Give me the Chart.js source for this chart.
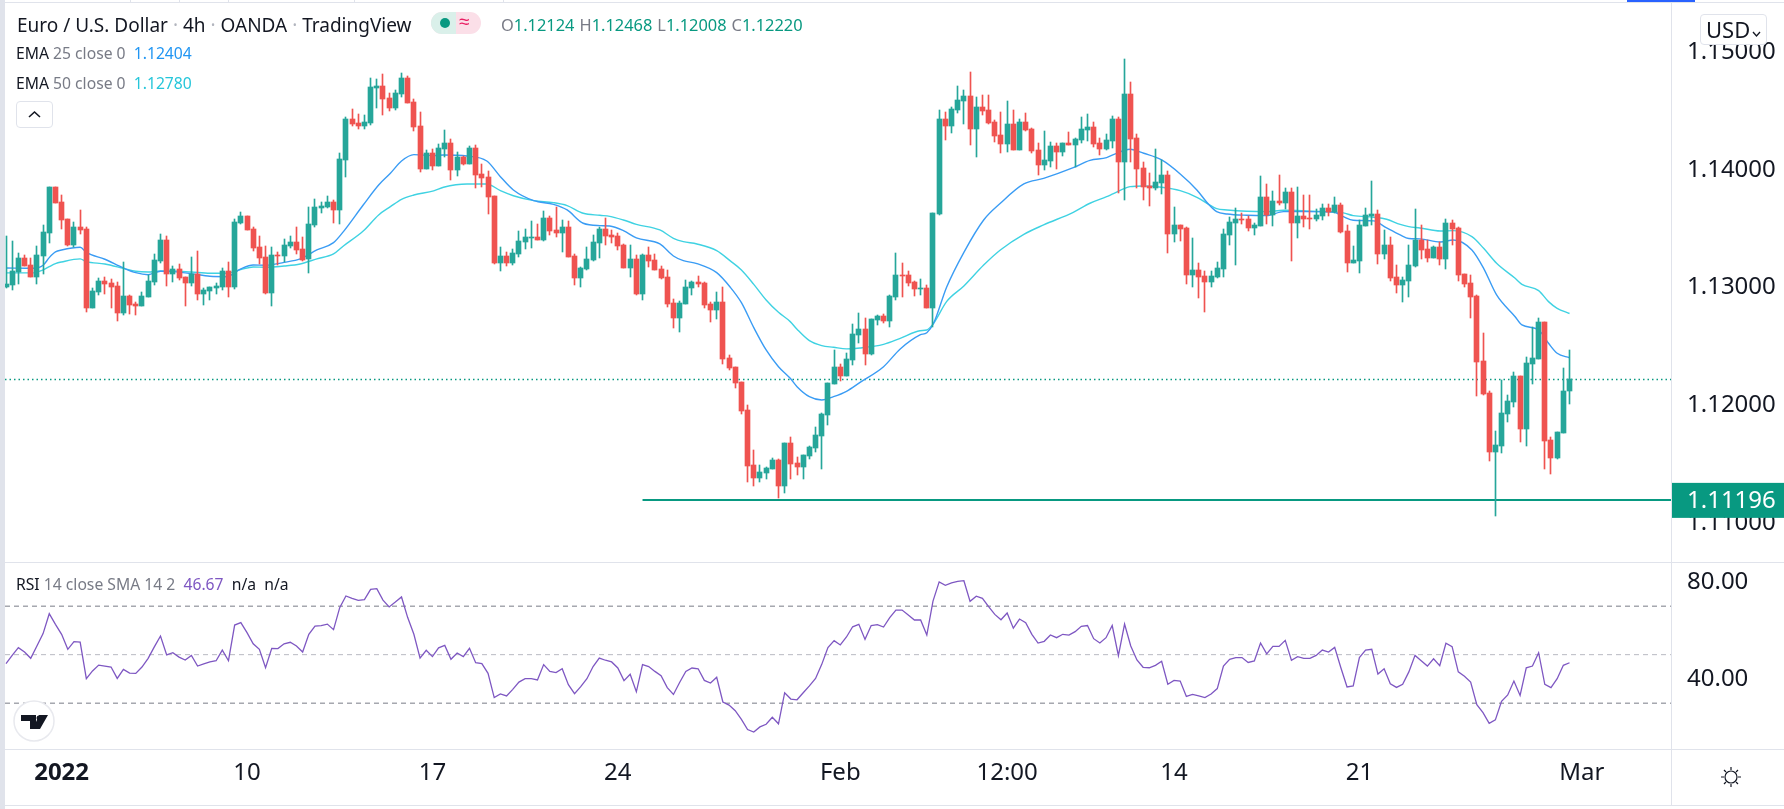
<!DOCTYPE html>
<html>
<head>
<meta charset="utf-8">
<title>Euro / U.S. Dollar</title>
<script src="https://cdn.jsdelivr.net/npm/chart.js@4/dist/chart.umd.min.js"></script>
<style>
html, body { margin: 0; padding: 0; background: #fff; width: 1784px; height: 809px; overflow: hidden; font-family: "Noto Sans", sans-serif; color: #131722; }
canvas { position: absolute; }
.line { position: absolute; background: #e0e3eb; }
.txt { position: absolute; white-space: nowrap; line-height: 20px; }
.grey { color: #787b86; }
#title { left: 17px; top: 15px; font-size: 19px; }
#title span { color: #b2b5be; }
#ohlc { left: 501px; top: 15px; font-size: 16.4px; color: #787b86; }
#ohlc b { font-weight: normal; color: #089981; margin-right: 5px; }
#ema25, #ema50, #rsiLegend { left: 16px; font-size: 15.7px; }
#ema25 { top: 43px; }
#ema50 { top: 73px; }
#rsiLegend { top: 574px; }
#pill { position: absolute; left: 431px; top: 12px; width: 50px; height: 22px; border-radius: 11px; overflow: hidden; background: #fbdfe8; }
#pill i { position: absolute; left: 0; top: 0; width: 25px; height: 22px; background: #daf0ea; }
#pill u { position: absolute; left: 9px; top: 6px; width: 10px; height: 10px; border-radius: 5px; background: #089981; }
#pill s { position: absolute; left: 28px; top: -3px; font-size: 19px; line-height: 24px; color: #e91e63; text-decoration: none; }
#collapse { position: absolute; left: 16px; top: 101px; width: 35px; height: 25px; border: 1px solid #e0e3eb; border-radius: 4px; background: #fff; }
#usd { position: absolute; left: 1700px; top: 14px; width: 65px; height: 29px; border: 1px solid #e0e3eb; border-radius: 4px; background: #fff; font-size: 22px; line-height: 29px; text-indent: 5px; }
#logo { position: absolute; left: 13px; top: 700px; }
#sun { position: absolute; left: 1720px; top: 766px; }
</style>
</head>
<body>
<canvas id="priceChart" style="left:5px;top:3px"></canvas>
<canvas id="rsiChart" style="left:5px;top:563px"></canvas>

<div class="line" style="left:0;top:0;width:5px;height:809px"></div>
<div class="line" style="left:5px;top:2px;width:1779px;height:1px"></div>
<div class="line" style="left:5px;top:562px;width:1779px;height:1px"></div>
<div class="line" style="left:5px;top:749px;width:1779px;height:1px"></div>
<div class="line" style="left:5px;top:805px;width:1779px;height:1px"></div>
<div class="line" style="left:1671px;top:3px;width:1px;height:802px"></div>
<div class="line" style="left:130px;top:0;width:1px;height:2px"></div>
<div class="line" style="left:179px;top:0;width:1px;height:2px"></div>
<div class="line" style="left:228px;top:0;width:1px;height:2px"></div>
<div class="line" style="left:354px;top:0;width:1px;height:2px"></div>
<div class="line" style="left:503px;top:0;width:1px;height:2px"></div>
<div class="line" style="left:1627px;top:0;width:68px;height:2px;background:#2962ff"></div>

<div class="txt" id="title">Euro / U.S. Dollar <span>·</span> 4h <span>·</span> OANDA <span>·</span> TradingView</div>
<div id="pill"><i></i><u></u><s>≈</s></div>
<div class="txt" id="ohlc">O<b>1.12124</b>H<b>1.12468</b>L<b>1.12008</b>C<b>1.12220</b></div>
<div class="txt" id="ema25">EMA <span class="grey">25 close 0</span>&nbsp; <span style="color:#2196f3">1.12404</span></div>
<div class="txt" id="ema50">EMA <span class="grey">50 close 0</span>&nbsp; <span style="color:#26c6da">1.12780</span></div>
<div id="collapse"><svg width="35" height="25"><path d="M12 15l5.5-5 5.5 5" fill="none" stroke="#131722" stroke-width="1.6"/></svg></div>
<div id="usd">USD<svg width="10" height="8" style="margin-left:2px"><path d="M1 2l3.5 4 3.5-4" fill="none" stroke="#131722" stroke-width="1.3"/></svg></div>
<div class="txt" id="rsiLegend">RSI <span class="grey">14 close SMA 14 2</span>&nbsp; <span style="color:#7e57c2">46.67</span>&nbsp; n/a&nbsp; n/a</div>
<svg id="logo" width="42" height="42"><circle cx="21" cy="21" r="20" fill="#fff" stroke="#e8e9ee" stroke-width="1.5"/><path d="M8 15h15v14h-6v-8h-9z M26 15h9l-8 14h-7z" fill="#131722"/><circle cx="26" cy="18" r="2.5" fill="#131722"/></svg>
<svg id="sun" width="22" height="22"><g fill="none" stroke="#131722" stroke-width="1.2"><circle cx="11" cy="11" r="6"/><path d="M11 1v3M11 18v3M1 11h3M18 11h3M4 4l2 2M16 16l2 2M4 18l2-2M16 6l2-2"/></g></svg>

<script>
// ========================
// Data
// ========================
const opens = [1.13006,1.13023,1.13133,1.13252,1.13193,1.13091,1.13269,1.13465,1.13855,1.13728,
1.13584,1.13363,1.13516,1.13499,1.12827,1.12963,1.13057,1.13040,1.13014,1.12785,
1.12929,1.12861,1.12844,1.12921,1.13048,1.13227,1.13405,1.13116,1.13159,1.13091,
1.13040,1.13116,1.12946,1.12972,1.12997,1.13006,1.13142,1.13006,1.13550,1.13609,
1.13499,1.13346,1.13261,1.12955,1.13278,1.13269,1.13354,1.13388,1.13329,1.13244,
1.13533,1.13677,1.13686,1.13728,1.13660,1.14085,1.14434,1.14400,1.14374,1.14400,
1.14697,1.14714,1.14612,1.14527,1.14646,1.14782,1.14578,1.14374,1.14009,1.14145,
1.14034,1.14179,1.14230,1.14000,1.14111,1.14051,1.14187,1.13966,1.13941,1.13779,
1.13210,1.13269,1.13210,1.13286,1.13388,1.13422,1.13431,1.13405,1.13592,1.13490,
1.13465,1.13516,1.13269,1.13082,1.13159,1.13235,1.13380,1.13499,1.13448,1.13439,
1.13363,1.13167,1.13244,1.12946,1.13278,1.13235,1.13159,1.13091,1.12870,1.12742,
1.12861,1.12997,1.13048,1.13040,1.12861,1.12810,1.12878,1.12402,1.12326,1.12198,
1.11960,1.11493,1.11382,1.11425,1.11459,1.11535,1.11314,1.11680,1.11510,1.11476,
1.11569,1.11637,1.11739,1.11918,1.12181,1.12326,1.12249,1.12385,1.12598,1.12648,
1.12436,1.12725,1.12759,1.12717,1.12921,1.13108,1.13108,1.13048,1.12989,1.12997,
1.12827,1.13626,1.14434,1.14374,1.14510,1.14587,1.14629,1.14349,1.14536,1.14510,
1.14408,1.14298,1.14221,1.14391,1.14170,1.14408,1.14349,1.14170,1.14043,1.14077,
1.14204,1.14153,1.14230,1.14213,1.14255,1.14340,1.14366,1.14230,1.14179,1.14247,
1.14434,1.14068,1.14646,1.14272,1.14017,1.13864,1.13847,1.13890,1.13958,1.13456,
1.13533,1.13507,1.13108,1.13150,1.13099,1.13048,1.13091,1.13159,1.13448,1.13550,
1.13584,1.13584,1.13507,1.13524,1.13771,1.13618,1.13737,1.13720,1.13813,1.13550,
1.13609,1.13592,1.13584,1.13609,1.13677,1.13643,1.13703,1.13482,1.13210,1.13227,
1.13524,1.13609,1.13626,1.13286,1.13363,1.13091,1.13023,1.13057,1.13184,1.13405,
1.13329,1.13252,1.13346,1.13244,1.13550,1.13507,1.13116,1.13040,1.12929,1.12377,
1.12105,1.11603,1.11654,1.11926,1.12028,1.12249,1.11799,1.12351,1.12394,1.12708,
1.11705,1.11552,1.11765,1.12124];
const highs = [1.13439,1.13397,1.13295,1.13278,1.13252,1.13354,1.13533,1.13855,1.13855,1.13788,
1.13584,1.13558,1.13660,1.13516,1.12997,1.13082,1.13091,1.13074,1.13048,1.13218,
1.12938,1.12878,1.12963,1.13108,1.13286,1.13456,1.13439,1.13184,1.13201,1.13091,
1.13261,1.13312,1.12997,1.13006,1.13040,1.13167,1.13218,1.13584,1.13643,1.13609,
1.13516,1.13439,1.13354,1.13346,1.13303,1.13414,1.13439,1.13516,1.13431,1.13686,
1.13754,1.13728,1.13779,1.13745,1.14145,1.14451,1.14519,1.14476,1.14468,1.14782,
1.14774,1.14816,1.14655,1.14680,1.14825,1.14799,1.14604,1.14493,1.14170,1.14179,
1.14221,1.14340,1.14264,1.14153,1.14119,1.14204,1.14213,1.14051,1.13992,1.13779,
1.13346,1.13303,1.13329,1.13482,1.13499,1.13567,1.13541,1.13652,1.13609,1.13686,
1.13575,1.13567,1.13286,1.13176,1.13346,1.13448,1.13516,1.13592,1.13490,1.13465,
1.13371,1.13363,1.13278,1.13286,1.13346,1.13286,1.13184,1.13150,1.12904,1.12887,
1.13065,1.13057,1.13099,1.13048,1.12878,1.12963,1.13006,1.12428,1.12326,1.12198,
1.12003,1.11620,1.11493,1.11476,1.11552,1.11544,1.11680,1.11731,1.11561,1.11578,
1.11654,1.11816,1.11935,1.12190,1.12470,1.12351,1.12445,1.12691,1.12785,1.12742,
1.12734,1.12768,1.12776,1.12938,1.13295,1.13210,1.13142,1.13057,1.13074,1.13023,
1.13635,1.14510,1.14493,1.14536,1.14714,1.14680,1.14833,1.14621,1.14638,1.14638,
1.14425,1.14493,1.14587,1.14510,1.14434,1.14485,1.14357,1.14230,1.14332,1.14238,
1.14230,1.14230,1.14323,1.14272,1.14451,1.14476,1.14408,1.14272,1.14306,1.14459,
1.14451,1.14944,1.14748,1.14306,1.14068,1.13975,1.14179,1.14085,1.13992,1.13686,
1.13533,1.13516,1.13422,1.13210,1.13142,1.13142,1.13218,1.13499,1.13601,1.13677,
1.13635,1.13609,1.13550,1.13949,1.13881,1.13822,1.13958,1.13847,1.13847,1.13855,
1.13788,1.13788,1.13669,1.13711,1.13711,1.13771,1.13720,1.13533,1.13354,1.13575,
1.13677,1.13907,1.13660,1.13490,1.13431,1.13193,1.13091,1.13363,1.13669,1.13533,
1.13405,1.13354,1.13388,1.13584,1.13575,1.13516,1.13116,1.13108,1.12938,1.12615,
1.12122,1.11782,1.12215,1.12088,1.12283,1.12249,1.12411,1.12666,1.12742,1.12708,
1.11731,1.11773,1.12317,1.12468];
const lows = [1.12997,1.12980,1.13031,1.13184,1.13091,1.13031,1.13116,1.13380,1.13720,1.13499,
1.13354,1.13346,1.13456,1.12793,1.12827,1.12938,1.12946,1.12827,1.12717,1.12768,
1.12776,1.12768,1.12844,1.12921,1.13023,1.13210,1.13014,1.13048,1.13065,1.12844,
1.13014,1.12895,1.12853,1.12895,1.12946,1.12980,1.12921,1.12989,1.13541,1.13490,
1.13312,1.13201,1.12946,1.12844,1.13193,1.13218,1.13337,1.13286,1.13227,1.13125,
1.13516,1.13635,1.13677,1.13550,1.13541,1.13941,1.14374,1.14349,1.14349,1.14383,
1.14527,1.14468,1.14502,1.14510,1.14621,1.14570,1.14332,1.13983,1.14009,1.14000,
1.14034,1.14111,1.13915,1.13949,1.14043,1.14051,1.13847,1.13855,1.13626,1.13201,
1.13142,1.13184,1.13193,1.13261,1.13329,1.13337,1.13405,1.13397,1.13448,1.13431,
1.13303,1.13261,1.13023,1.13006,1.13150,1.13227,1.13252,1.13363,1.13380,1.13320,
1.13167,1.13091,1.12938,1.12895,1.13176,1.13150,1.13074,1.12836,1.12657,1.12623,
1.12861,1.12938,1.13006,1.12827,1.12708,1.12734,1.12351,1.12300,1.12147,1.11926,
1.11348,1.11314,1.11348,1.11374,1.11459,1.11212,1.11255,1.11374,1.11408,1.11374,
1.11544,1.11603,1.11459,1.11833,1.12181,1.12207,1.12249,1.12343,1.12530,1.12343,
1.12428,1.12683,1.12700,1.12666,1.12895,1.12921,1.13014,1.12929,1.12938,1.12827,
1.12666,1.13618,1.14255,1.14315,1.14485,1.14391,1.14213,1.14111,1.14468,1.14391,
1.14238,1.14145,1.14153,1.14170,1.14170,1.14332,1.14145,1.13958,1.14000,1.14026,
1.14009,1.14119,1.14213,1.14026,1.14230,1.14247,1.14196,1.14128,1.14170,1.14187,
1.13805,1.13745,1.14068,1.13847,1.13745,1.13694,1.13830,1.13796,1.13295,1.13388,
1.13397,1.13031,1.13006,1.12912,1.12793,1.13006,1.13082,1.13091,1.13363,1.13193,
1.13541,1.13482,1.13448,1.13524,1.13541,1.13524,1.13703,1.13669,1.13227,1.13422,
1.13516,1.13499,1.13567,1.13575,1.13609,1.13635,1.13465,1.13133,1.13210,1.13125,
1.13524,1.13533,1.13201,1.13244,1.13057,1.12955,1.12878,1.12921,1.13176,1.13244,
1.13218,1.13252,1.13193,1.13159,1.13363,1.13057,1.13006,1.12742,1.12079,1.12088,
1.11527,1.11059,1.11595,1.11858,1.11986,1.11688,1.11654,1.12181,1.12394,1.11459,
1.11416,1.11544,1.11765,1.12008];
const closes = [1.13031,1.13142,1.13252,1.13184,1.13091,1.13278,1.13473,1.13855,1.13720,1.13575,
1.13363,1.13516,1.13490,1.12827,1.12972,1.13057,1.13031,1.13006,1.12785,1.12929,
1.12853,1.12844,1.12929,1.13057,1.13235,1.13405,1.13116,1.13159,1.13082,1.13040,
1.13116,1.12946,1.12980,1.13006,1.13014,1.13142,1.13006,1.13558,1.13609,1.13490,
1.13337,1.13252,1.12955,1.13278,1.13269,1.13363,1.13388,1.13320,1.13235,1.13541,
1.13686,1.13694,1.13728,1.13660,1.14094,1.14434,1.14391,1.14374,1.14408,1.14706,
1.14714,1.14604,1.14527,1.14655,1.14782,1.14570,1.14366,1.14009,1.14145,1.14034,
1.14187,1.14230,1.14000,1.14111,1.14051,1.14187,1.13958,1.13932,1.13771,1.13210,
1.13269,1.13210,1.13295,1.13397,1.13431,1.13431,1.13405,1.13592,1.13482,1.13465,
1.13516,1.13261,1.13082,1.13167,1.13244,1.13388,1.13499,1.13439,1.13431,1.13354,
1.13167,1.13244,1.12946,1.13278,1.13227,1.13150,1.13082,1.12861,1.12742,1.12870,
1.13006,1.13048,1.13031,1.12853,1.12810,1.12878,1.12394,1.12317,1.12190,1.11952,
1.11484,1.11382,1.11433,1.11467,1.11535,1.11314,1.11680,1.11501,1.11476,1.11578,
1.11646,1.11748,1.11926,1.12190,1.12326,1.12249,1.12394,1.12606,1.12648,1.12436,
1.12734,1.12759,1.12717,1.12929,1.13108,1.13099,1.13040,1.12989,1.12997,1.12827,
1.13635,1.14434,1.14374,1.14519,1.14595,1.14629,1.14349,1.14536,1.14502,1.14400,
1.14289,1.14221,1.14391,1.14170,1.14408,1.14340,1.14162,1.14043,1.14085,1.14204,
1.14153,1.14230,1.14213,1.14264,1.14349,1.14366,1.14221,1.14179,1.14255,1.14434,
1.14068,1.14646,1.14264,1.14009,1.13855,1.13847,1.13898,1.13958,1.13456,1.13533,
1.13499,1.13108,1.13150,1.13091,1.13048,1.13099,1.13167,1.13456,1.13558,1.13584,
1.13575,1.13507,1.13533,1.13771,1.13618,1.13737,1.13720,1.13813,1.13550,1.13609,
1.13584,1.13584,1.13618,1.13677,1.13643,1.13703,1.13473,1.13210,1.13235,1.13533,
1.13618,1.13626,1.13286,1.13363,1.13082,1.13023,1.13065,1.13193,1.13405,1.13320,
1.13252,1.13346,1.13244,1.13550,1.13499,1.13108,1.13031,1.12921,1.12368,1.12096,
1.11603,1.11663,1.11935,1.12037,1.12249,1.11799,1.12360,1.12402,1.12708,1.11696,
1.11552,1.11773,1.12122,1.12220];

// EMA lines, read at these bar numbers
const emaBars = [1,5.4,7,8,9,10,13,14,17,20,22,24,26,28,31,34,36.7,39,41,43,46,48.6,51.3,54,55.6,58.8,61.3,63.2,65,67,70.2,71.8,75.6,78.8,81,83.1,86.4,89.6,91.8,94.4,97.1,98.7,100.9,103,106.8,109,110.6,112.8,116,118.2,120,122,124,126,127.9,129,131,133,134.9,137,139.2,143,145.7,148.9,150,151.1,153.2,156,159.2,161.9,165.7,168.9,173.7,176.4,179.1,180.2,182.9,185.1,188,191,193.7,195.6,196.9,198.6,201.8,205,207.7,211.5,215.8,217.4,219,222.3,224.4,226.6,228,229.8,233.1,235.2,238.2,240.1,242.2,245.2,246.3,249,250.6,252,254];
const ema25 = [1.13167,1.13164,1.13190,1.13255,1.13303,1.13320,1.13343,1.13300,1.13241,1.13167,1.13127,1.13110,1.13139,1.13136,1.13119,1.13096,1.13093,1.13159,1.13192,1.13190,1.13215,1.13244,1.13320,1.13382,1.13476,1.13702,1.13872,1.13972,1.14076,1.14130,1.14122,1.14127,1.14119,1.14076,1.13943,1.13830,1.13739,1.13708,1.13660,1.13547,1.13527,1.13524,1.13484,1.13422,1.13371,1.13269,1.13229,1.13204,1.13127,1.13003,1.12872,1.12660,1.12470,1.12328,1.12229,1.12158,1.12073,1.12045,1.12073,1.12119,1.12195,1.12328,1.12479,1.12598,1.12617,1.12697,1.13003,1.13300,1.13575,1.13717,1.13881,1.13929,1.14020,1.14082,1.14105,1.14130,1.14176,1.14142,1.14085,1.13966,1.13830,1.13708,1.13646,1.13626,1.13615,1.13612,1.13646,1.13646,1.13643,1.13603,1.13572,1.13567,1.13507,1.13448,1.13418,1.13414,1.13388,1.13405,1.13320,1.13164,1.12938,1.12753,1.12683,1.12640,1.12527,1.12442,1.12404];
const ema50 = [1.13125,1.13125,1.13150,1.13178,1.13204,1.13218,1.13244,1.13221,1.13201,1.13164,1.13139,1.13133,1.13142,1.13142,1.13133,1.13122,1.13122,1.13153,1.13175,1.13173,1.13184,1.13201,1.13244,1.13286,1.13354,1.13481,1.13618,1.13688,1.13751,1.13787,1.13822,1.13853,1.13881,1.13881,1.13824,1.13781,1.13739,1.13722,1.13697,1.13632,1.13615,1.13606,1.13575,1.13538,1.13490,1.13419,1.13391,1.13371,1.13314,1.13227,1.13150,1.13028,1.12895,1.12790,1.12711,1.12646,1.12549,1.12507,1.12493,1.12479,1.12487,1.12518,1.12569,1.12634,1.12640,1.12697,1.12881,1.13014,1.13192,1.13320,1.13453,1.13533,1.13640,1.13717,1.13773,1.13799,1.13858,1.13864,1.13853,1.13824,1.13768,1.13708,1.13671,1.13660,1.13649,1.13646,1.13657,1.13652,1.13643,1.13635,1.13612,1.13598,1.13581,1.13537,1.13518,1.13507,1.13481,1.13484,1.13433,1.13334,1.13207,1.13079,1.13028,1.12974,1.12881,1.12824,1.12780];

// RSI, one value per bar
const rsi = [46.3,49.7,52.9,51.1,48.5,53.6,58.7,66.9,62.5,58.4,52.2,55.4,55.2,40.1,43.3,45.7,45.3,44.9,40.2,43.9,
42.4,42.3,44.9,48.5,53.2,57.7,49.9,50.8,49.0,47.8,49.7,45.3,46.2,47.0,47.5,51.9,47.5,62.2,63.2,59.1,
54.5,52.2,44.6,52.6,52.5,54.5,55.1,53.6,51.1,58.4,61.8,62.0,62.6,60.3,69.4,74.2,73.2,72.4,72.7,76.9,
77.2,72.5,69.7,71.7,73.8,65.3,58.4,48.6,51.8,49.2,52.8,53.8,48.1,50.7,49.2,52.6,46.7,46.3,42.3,32.3,
33.8,33.0,35.7,38.7,40.1,40.1,39.6,45.9,43.1,42.6,44.2,37.6,33.9,36.8,40.1,45.1,48.6,47.7,47.0,44.5,
39.3,41.9,34.7,45.9,45.1,43.1,41.3,36.4,33.6,38.5,43.1,44.5,44.2,39.4,38.3,40.7,30.5,29.2,26.9,23.3,
19.1,18.1,20.2,21.3,24.2,21.5,34.3,31.7,31.4,34.3,37.1,40.2,46.0,52.9,55.8,54.0,57.3,61.5,62.5,56.3,
62.0,62.4,61.4,65.3,68.4,68.4,66.4,64.3,64.3,58.1,72.1,80.0,78.6,79.6,80.2,80.5,72.0,74.1,73.2,69.8,
66.6,64.4,67.2,60.9,64.7,63.2,58.4,54.8,55.5,58.1,57.0,58.4,58.1,59.5,61.7,62.0,56.6,54.8,57.0,62.0,
49.6,62.6,53.6,47.8,44.8,44.6,45.6,47.3,37.8,39.4,39.1,32.8,33.6,33.0,32.3,33.8,36.0,45.3,48.1,48.8,
48.8,46.8,47.4,54.8,50.3,53.4,53.4,55.9,47.7,49.2,48.5,48.5,49.7,51.9,51.1,53.0,44.6,36.7,37.1,48.8,
51.9,52.2,42.0,44.2,38.0,36.5,37.8,42.9,49.7,47.5,45.3,48.3,45.5,54.7,53.3,42.9,41.1,38.7,29.4,26.1,
21.7,23.1,30.8,33.4,39.1,33.2,44.6,45.3,50.8,37.8,36.4,40.1,45.6,46.67];

// Axes
const priceTicks = [1.11, 1.12, 1.13, 1.14, 1.15];
const rsiTicks = [40, 80];
const rsiBands = [70, 50, 30];
const timeBars = [10, 40, 70, 100, 136, 163, 190, 220, 256];
const timeLabels = ['2022', '10', '17', '24', 'Feb', '12:00', '14', '21', 'Mar'];
const supportLevel = 1.11196;
const supportStartBar = 104;
const lastPrice = 1.12220;

// ========================
// Shared settings
// ========================
const FIRST_BAR = 0.838;
const LAST_BAR = 270.42;
const UP = '#26a69a';
const DOWN = '#ef5350';
const FONT = '"Noto Sans", sans-serif';
const TEXT = '#131722';
const AXIS_WIDTH = 113;
const LABEL_PAD = 16;

const bars = opens.map((_, i) => i + 1);
const candleColors = closes.map((c, i) => (c >= opens[i] ? UP : DOWN));

// Keep the pane edges where they are: tick padding should only push labels sideways
function fitRightAxis(scale) {
    scale.width = AXIS_WIDTH;
    scale.paddingTop = 0;
    scale.paddingBottom = 0;
}

// Line the bars up with whole pixels so wicks stay 1px wide
const snapBars = {
    id: 'snapBars',
    afterDatasetsUpdate(chart) {
        chart.data.datasets.forEach((ds, i) => {
            if (ds.type === 'line') return;
            chart.getDatasetMeta(i).data.forEach(b => {
                b.x = Math.floor(b.x) + 0.5;
                b.y = Math.round(b.y);
                b.base = Math.round(b.base);
                if (b.base === b.y) b.base = b.y + 1;
            });
        });
    }
};

// Green price tag on the axis
const supportTag = {
    id: 'supportTag',
    afterDraw(chart) {
        const y = chart.scales.y.getPixelForValue(supportLevel);
        const x = chart.chartArea.right;
        const ctx = chart.ctx;
        ctx.save();
        ctx.fillStyle = '#089981';
        ctx.fillRect(x, y - 17, chart.width - x, 35);
        ctx.fillStyle = '#fff';
        ctx.font = '24px ' + FONT;
        ctx.textBaseline = 'middle';
        ctx.fillText(supportLevel.toFixed(5), x + LABEL_PAD, y + 1);
        ctx.restore();
    }
};

function lineOf(points, color, width, extra) {
    return Object.assign({
        type: 'line',
        data: points,
        borderColor: color,
        borderWidth: width,
        pointRadius: 0,
        fill: false
    }, extra);
}

// ========================
// Price pane
// ========================
const priceCanvas = document.getElementById('priceChart');
priceCanvas.width = 1779;
priceCanvas.height = 559;

new Chart(priceCanvas, {
    type: 'bar',
    data: {
        datasets: [
            { data: bars.map((b, i) => ({ x: b, y: [opens[i], closes[i]] })), backgroundColor: candleColors, barThickness: 5, grouped: false, order: 0 },
            { data: bars.map((b, i) => ({ x: b, y: [lows[i], highs[i]] })), backgroundColor: candleColors, barThickness: 1, grouped: false, order: 1 },
            lineOf(emaBars.map((b, i) => ({ x: b, y: ema25[i] })), '#3a9cf4', 1.4, { cubicInterpolationMode: 'monotone', order: 2 }),
            lineOf(emaBars.map((b, i) => ({ x: b, y: ema50[i] })), '#3fd2e2', 1.4, { cubicInterpolationMode: 'monotone', order: 3 }),
            lineOf([{ x: FIRST_BAR, y: lastPrice }, { x: LAST_BAR, y: lastPrice }], '#089981', 1.5, { borderDash: [1.5, 3], order: 4 }),
            lineOf([{ x: supportStartBar, y: supportLevel }, { x: LAST_BAR, y: supportLevel }], '#089981', 2, { order: 5 })
        ]
    },
    options: {
        responsive: false,
        animation: false,
        events: [],
        layout: { padding: 0 },
        plugins: { legend: { display: false }, tooltip: { enabled: false } },
        scales: {
            x: { type: 'linear', display: false, offset: false, min: FIRST_BAR, max: LAST_BAR, grid: { display: false } },
            y: {
                position: 'right',
                min: 1.10668,
                max: 1.15419,
                grid: { display: false, drawTicks: false },
                border: { display: false },
                afterFit: fitRightAxis,
                afterBuildTicks: s => { s.ticks = priceTicks.map(v => ({ value: v })); },
                ticks: {
                    color: TEXT,
                    padding: LABEL_PAD,
                    font: { family: FONT, size: 24 },
                    callback: v => v.toFixed(5)
                }
            }
        }
    },
    plugins: [snapBars, supportTag]
});

// ========================
// RSI pane and time axis
// ========================
const rsiCanvas = document.getElementById('rsiChart');
rsiCanvas.width = 1779;
rsiCanvas.height = 242;

const bandColors = ['#787b86', '#b8bac2', '#787b86'];

new Chart(rsiCanvas, {
    type: 'line',
    data: {
        datasets: [
            lineOf(bars.map((b, i) => ({ x: b, y: rsi[i] })), '#7e57c2', 1.3, { order: 0 }),
            ...rsiBands.map((v, i) => lineOf([{ x: FIRST_BAR, y: v }, { x: LAST_BAR, y: v }], bandColors[i], 1, { borderDash: [5, 4], order: 1 }))
        ]
    },
    options: {
        responsive: false,
        animation: false,
        events: [],
        layout: { padding: 0 },
        plugins: { legend: { display: false }, tooltip: { enabled: false } },
        scales: {
            x: {
                type: 'linear',
                min: FIRST_BAR,
                max: LAST_BAR,
                grid: { display: false, drawTicks: false },
                border: { display: false },
                afterFit: s => { s.height = 56; },
                afterBuildTicks: s => { s.ticks = timeBars.map(v => ({ value: v })); },
                ticks: {
                    color: TEXT,
                    padding: 10,
                    autoSkip: false,
                    maxRotation: 0,
                    font: ctx => ({ family: FONT, size: 24, weight: ctx.tick && ctx.tick.value === timeBars[0] ? 'bold' : 'normal' }),
                    callback: v => timeLabels[timeBars.indexOf(v)]
                }
            },
            y: {
                position: 'right',
                min: 11.1,
                max: 87.8,
                grid: { display: false, drawTicks: false },
                border: { display: false },
                afterFit: fitRightAxis,
                afterBuildTicks: s => { s.ticks = rsiTicks.map(v => ({ value: v })); },
                ticks: {
                    color: TEXT,
                    padding: LABEL_PAD,
                    font: { family: FONT, size: 24 },
                    callback: v => v.toFixed(2)
                }
            }
        }
    }
});
</script>
</body>
</html>
